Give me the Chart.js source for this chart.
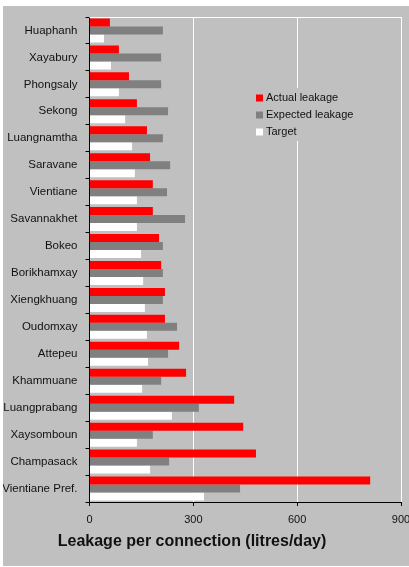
<!DOCTYPE html>
<html>
<head>
<meta charset="utf-8">
<script src="https://cdn.jsdelivr.net/npm/chart.js@4/dist/chart.umd.min.js"></script>
<style>
  html, body { margin: 0; padding: 0; background: #ffffff; }
  #wrap { position: absolute; left: 3px; top: 6px; width: 406px; height: 560px; }
  canvas { display: block; }
</style>
</head>
<body>
<div id="wrap"><canvas id="c" width="406" height="560"></canvas></div>
<script>
const categories = ["Huaphanh","Xayabury","Phongsaly","Sekong","Luangnamtha","Saravane","Vientiane","Savannakhet","Bokeo","Borikhamxay","Xiengkhuang","Oudomxay","Attepeu","Khammuane","Luangprabang","Xaysomboun","Champasack","Vientiane Pref."];
const actualLeakage   = [59, 85, 114, 137, 166, 175, 183, 183, 201, 207, 218, 218, 259, 279, 418, 444, 481, 811];
const expectedLeakage = [212, 207, 207, 227, 212, 233, 224, 276, 212, 212, 212, 253, 227, 207, 316, 183, 230, 435];
const targetLeakage   = [42, 62, 85, 103, 123, 131, 137, 137, 149, 155, 160, 166, 169, 152, 238, 137, 175, 331];
const xTicks = [0, 300, 600, 900];
const seriesNames = ["Actual leakage", "Expected leakage", "Target"];
const seriesColors = ["#ff0000", "#808080", "#ffffff"];
const axisTitle = "Leakage per connection (litres/day)";

const FONT = "'Liberation Sans', Arial, sans-serif";

function zeroPad(scale) {
  scale.paddingTop = 0; scale.paddingBottom = 0;
  scale.paddingLeft = 0; scale.paddingRight = 0;
}

const bgPlugin = {
  id: 'bg',
  beforeDraw(chart) {
    const ctx = chart.ctx;
    ctx.save();
    ctx.fillStyle = '#c0c0c0';
    ctx.fillRect(0, 0, chart.width, chart.height);
    ctx.restore();
  },
  beforeDatasetsDraw(chart) {
    const ctx = chart.ctx, a = chart.chartArea;
    ctx.save();
    ctx.strokeStyle = '#ffffff';
    ctx.lineWidth = 1;
    ctx.beginPath();
    ctx.moveTo(a.left, Math.round(a.top) + 0.5);
    ctx.lineTo(a.right, Math.round(a.top) + 0.5);
    ctx.stroke();
    ctx.restore();
  },
  afterDraw(chart) {
    const ctx = chart.ctx;
    ctx.save();
    const lx = 247, ly = 82;
    ctx.fillStyle = '#c0c0c0';
    ctx.fillRect(lx, ly, 100, 53);
    ctx.font = "11px " + FONT;
    ctx.textBaseline = 'middle';
    ctx.textAlign = 'left';
    chart.data.datasets.forEach((ds, i) => {
      const cy = 92 + i * 17;
      ctx.fillStyle = ds.backgroundColor;
      ctx.fillRect(lx + 6, cy - 3.5, 7, 7);
      ctx.fillStyle = '#111111';
      ctx.fillText(ds.label, lx + 16, cy);
    });
    ctx.font = "bold 16px " + FONT;
    ctx.textAlign = 'center';
    ctx.fillStyle = '#111111';
    ctx.fillText(axisTitle, 189, 536);
    ctx.restore();
  }
};

new Chart(document.getElementById('c'), {
  type: 'bar',
  data: {
    labels: categories,
    datasets: [
      { label: seriesNames[0], data: actualLeakage, backgroundColor: seriesColors[0] },
      { label: seriesNames[1], data: expectedLeakage, backgroundColor: seriesColors[1] },
      { label: seriesNames[2], data: targetLeakage, backgroundColor: seriesColors[2] }
    ]
  },
  options: {
    indexAxis: 'y',
    responsive: false,
    animation: false,
    devicePixelRatio: 1,
    layout: { padding: { top: 11, right: 8, left: 0, bottom: 0 } },
    datasets: { bar: { barPercentage: 1.0, categoryPercentage: 0.89, borderWidth: 0 } },
    plugins: { legend: { display: false }, tooltip: { enabled: false } },
    scales: {
      x: {
        min: 0, max: 900,
        afterBuildTicks(scale) { scale.ticks = xTicks.map(v => ({ value: v })); },
        afterFit(scale) { scale.height = 64; zeroPad(scale); },
        border: { display: true, color: '#000000', width: 1 },
        grid: {
          color: (c) => (c.tick && c.tick.value === 0) ? 'rgba(0,0,0,0)' : '#ffffff',
          tickColor: '#000000',
          tickLength: 4,
          lineWidth: 1
        },
        ticks: { color: '#111111', font: { family: FONT, size: 11 }, padding: 7, maxRotation: 0 }
      },
      y: {
        afterFit(scale) { scale.width = 86.5; zeroPad(scale); },
        border: { display: true, color: '#000000', width: 1 },
        grid: { drawOnChartArea: false, drawTicks: true, tickLength: 4, color: '#000000', offset: true },
        ticks: { color: '#111111', font: { family: FONT, size: 11.5 }, padding: 8 }
      }
    }
  },
  plugins: [bgPlugin]
});
</script>
</body>
</html>
